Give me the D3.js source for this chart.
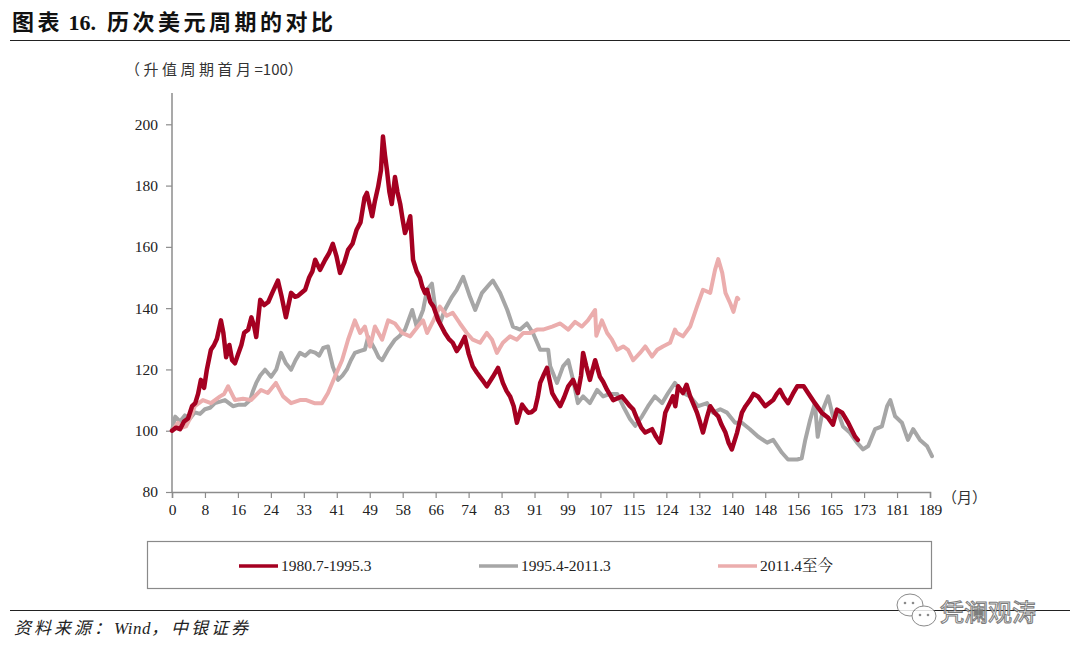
<!DOCTYPE html>
<html><head><meta charset="utf-8">
<script src="https://cdn.jsdelivr.net/npm/d3@7"></script>
<style>
body{margin:0;background:#fff;}
svg{display:block;}
</style></head>
<body>
<svg id="chart" width="1080" height="660"></svg>
<script>
// ---- data (month index, index value: first month of appreciation cycle = 100) ----
const seriesNames = ["1980.7-1995.3", "1995.4-2011.3", "2011.4至今"];
const xTickLabels = ["0","8","16","24","33","41","49","58","66","74","83","91","99","107","115","124","132","140","148","156","165","173","181","189"];
const yTicks = [80,100,120,140,160,180,200];

const redMonths = [0,1,2,3,4,5,5.8,6.5,7.2,8,8.7,9.7,10.5,11.2,12.2,12.8,13.5,14.3,15,15.7,16.5,17.3,18,19,19.8,20.5,21,22,23,24,25,26.4,27.3,28.4,29.7,30.7,31.4,32.3,33.2,34.2,35,35.7,36.9,38.2,39.2,40.1,41,41.9,43,43.9,45,46,47,48,48.6,49.9,50.6,51.4,52.1,52.6,53.1,53.6,54.2,54.8,55.6,56.2,56.9,57.5,58.1,58.8,59.4,60.1,61,61.8,62.4,63.1,63.6,64.4,65.2,66.4,67.2,68,69,70,71,71.8,73,74,75,76,76.8,77.7,78.5,80,81.3,82.5,83.4,84.3,85.2,86,87.3,88.1,88.8,89.6,90.5,91.2,91.8,92.6,93.5,94.8,95.8,96.8,97.8,98.8,100,101.2,102,102.5,103.3,104.2,105.5,106.7,107.5,108.5,110,112.2,114.2,115,116,117,118,119.7,120.7,121.7,122.3,123,124.9,125.5,126.2,127.4,128.3,129.2,130.9,131.6,132.4,133.3,134.2,135.2,136.2,137,138,138.8,139.6,140.9,142.1,143,144.1,145,146.1,147.9,149.9,150.8,151.6,152.5,153.6,154.8,155.9,157.5,158.6,160.3,162,163.6,164.8,165.8,167.1,168.6,170.3,171];
const redValues = [100,101,100.5,103,104,108,109,112,116.6,114,120,126.4,128,130,136,132,124,128,123,122,125,128,132,133,137,134,130.6,142.7,141,142,145,149,144,137,145,143.7,144,145,146,150,152,155.8,152.5,155.8,158,161,157,151.5,155,159,161,165.5,168,176,177.6,170,175,179.6,185,196,190,185,178,174,182.8,178,174,169,164.5,167,170,155.8,152,150,147,144.9,146,142,140.5,136,134,132,130,128.7,126,127.5,130.6,125,121,119,117.6,116,114.5,117.6,120.5,115.6,113,111.2,108,102.6,108.5,107,105.9,106,107,111,115.6,118,120.5,112.3,110,108,111,114.5,116.6,112.3,118,125.4,121,116.6,123,117.6,116,113.3,110,111.2,108,107,103.8,101,99.4,100.5,98,96.1,100,105.9,111.2,108,114.5,112.3,115,111.2,105.9,103,99.4,104,108,106,104.7,102,99.4,96,93.9,99.4,105.9,108,110,112,111.2,108,110,112,113.3,111,109,112,114.5,114.5,112.3,109,105.9,104.2,102,106.9,105.9,102.6,98.1,97];

const grayMonths = [0,0.8,2,3.2,4.5,5.7,7,8.2,9.5,10.7,12,13.2,14.2,15.2,16.7,18.2,19.5,20.2,21,22,23.2,24.7,26,27.2,28.4,29.7,30.8,31.9,33.2,34.5,35.7,36.7,37.7,38.9,40.1,41.4,42.5,43.6,44.6,45.6,46.8,48.1,48.9,50.6,51.5,52.4,53.9,55.6,56.8,58.1,59.9,61,62.6,63.6,64.8,65.6,66.8,68,69.8,71,72.6,74.3,75.6,77.3,79.3,80,81.8,83.6,85,86.8,88.5,90,91.8,93.8,94.3,96,97.5,98.8,100,101.2,102.5,104.2,106,107.5,109.2,111,112.5,114.2,115.5,117.2,118.7,120.4,122.2,123.7,125.4,127.4,129.2,131.2,133.4,134.9,136.7,138.4,140.4,142.1,144.1,146.1,148.4,149.9,152.1,153.6,155.9,157,157.9,159.1,160.3,161,162.3,163.6,164.8,166.1,167.3,169,170.8,172.3,173.6,175.3,177,178.3,179.1,180.3,182,183.5,184.8,186.5,188.3,189.5];
const grayValues = [100,104.6,103,105,104,106,105.5,107,107.5,109,109.5,110,109,108,108.5,108.5,110,113,115.6,118,119.9,117.6,120,125.4,122,119.9,123,125.4,124.5,126,125.5,124.5,127,127.5,120.9,116.6,118,120,123,125.4,126,126.5,130.6,126.5,124,123,126.5,129.7,131,133,139.4,134,139.4,146,148,140.5,135,139.4,143.7,146,150.2,143.7,139.4,145,148,149,145,139.4,134,133,135,131.9,126.4,126.4,121,115.6,121,123,116.6,109,111.2,109,113.3,111.2,112,112,108,103.8,101.6,104.7,108,111.2,109,112.3,115.6,112.3,111.2,108,109,105.9,107,105.9,102.6,102.6,100.5,98.1,96.1,97,92.8,90.6,90.6,91,97,103.5,109,98,106.9,111.2,104.7,105.9,101.4,99.4,96.1,93.9,95,100.5,101.4,108,110,104.7,102.6,97,100.5,97,94.9,91.7];

const pinkMonths = [0,1.5,2.5,3.5,4.5,5.7,7.7,9.7,12,13,14,15.7,17.7,19.7,22.2,23.9,25.9,27.7,29.7,31.9,33.5,35.5,37.4,38.9,40.6,42.4,43.9,45.6,46.9,48.1,49.4,50.6,52.4,53.9,55.6,57.4,59.4,61.3,62.6,63.6,65.2,66.8,68.5,70,71.8,73.5,75,76.8,78.5,79.8,81,82.5,84.3,86,87.6,89.3,91,92.5,94.8,96.8,98.8,100.5,102.2,103.7,105.5,105.8,107.2,108.5,109.7,111,112.5,113.7,115,116.7,118,119.7,121,122.4,124.2,125.4,125.9,127.4,129.2,130.9,132.4,134.2,135.4,136.2,137.2,138,139.2,140,140.9,141.2];
const pinkValues = [100,102.6,101,101.4,104,108,110,109,111.2,112,114.5,110,110.4,110,113.3,112.3,115.6,111.2,109,110,110,109,109,112.3,117.6,123,129.7,136,131.9,134,127.5,134,129.7,136,135,131.9,130.8,134,136,131.9,136,140.5,137.5,138.5,135,131.9,129.7,128.7,131.9,129.7,125.4,128.7,130.8,129.7,131.9,131.9,133,133,134,135,133,135.5,134,136,139.4,131,136,131.9,129.7,126.4,127.5,126.4,123,125.4,127.5,124.2,126.4,127.5,128.7,133,131.9,130.8,134,140.5,146,145,152.5,156,151.5,145,141.5,138.8,143.4,143];

const colors = ["#A50021", "#A6A6A6", "#EBADAD"];

// ---- drawing ----
const svg = d3.select("#chart");
const serif = "'Liberation Serif','Times New Roman','Noto Serif CJK SC','Noto Sans CJK SC',serif";
const cjk = "'Noto Sans CJK SC','Liberation Sans',sans-serif";

function spanned(sel, parts) {
  parts.forEach(p => sel.append("tspan").attr("letter-spacing", p[1]).text(p[0]));
  return sel;
}

// title
spanned(svg.append("text").attr("x", 12).attr("y", 30).style("white-space", "pre")
  .attr("font-family", "'Liberation Serif','Noto Sans CJK SC',serif").attr("font-weight", "bold")
  .attr("font-size", 22).attr("fill", "#111"),
  [["图表", 3.5], ["\u00a016.\u00a0\u00a0", 0], ["历次美元周期的对比", 3.5]]);
svg.append("line").attr("x1", 10).attr("x2", 1070).attr("y1", 40.5).attr("y2", 40.5)
  .attr("stroke", "#222").attr("stroke-width", 1.2);

// unit label
spanned(svg.append("text").attr("x", 125).attr("y", 75)
  .attr("font-family", cjk).attr("font-size", 15).attr("fill", "#333"),
  [["（升值周期首月", 3.5], ["=100）", 0]]);

const x = d3.scaleLinear().domain([0, 189]).range([172, 930]);
const y = d3.scaleLinear().domain([80, 200]).range([492, 124.3]);

// axes
const axisColor = "#8c8c8c";
const yAxis = svg.append("g").attr("transform", "translate(172,0)")
  .call(d3.axisLeft(y).tickValues(yTicks).tickSize(6).tickPadding(8));
yAxis.select(".domain").remove();
yAxis.append("line").attr("x1", 0).attr("x2", 0).attr("y1", 93).attr("y2", 492)
  .attr("stroke", axisColor).attr("stroke-width", 1.5);

const xTickVals = xTickLabels.map((d, i) => i * 189 / 23);
const xAxis = svg.append("g").attr("transform", "translate(0,492)")
  .call(d3.axisBottom(x).tickValues(xTickVals).tickSize(6).tickPadding(6)
    .tickFormat((d, i) => xTickLabels[i]));
xAxis.select(".domain").attr("stroke", axisColor).attr("stroke-width", 1.5);

[yAxis, xAxis].forEach(g => {
  g.selectAll(".tick line").attr("stroke", axisColor).attr("stroke-width", 1.2);
  g.selectAll(".tick text").attr("font-family", serif).attr("font-size", 15.5).attr("fill", "#222");
});

svg.append("text").attr("x", 942).attr("y", 503)
  .attr("font-family", cjk).attr("font-size", 15).attr("fill", "#333").text("（月）");

// lines
const line = d3.line().x(d => x(d[0])).y(d => y(d[1])).curve(d3.curveLinear);
const allData = [
  d3.zip(grayMonths, grayValues),
  d3.zip(pinkMonths, pinkValues),
  d3.zip(redMonths, redValues)
];
const order = [1, 2, 0];
allData.forEach((data, k) => {
  svg.append("path").datum(data).attr("d", line)
    .attr("fill", "none").attr("stroke", colors[order[k]])
    .attr("stroke-width", k === 2 ? 4.5 : 4)
    .attr("stroke-linejoin", "round").attr("stroke-linecap", "round");
});

// legend
svg.append("rect").attr("x", 147.5).attr("y", 541.5).attr("width", 784).attr("height", 47)
  .attr("fill", "#fff").attr("stroke", "#8a8a8a").attr("stroke-width", 1.2);
const legX = [239, 479, 718];
seriesNames.forEach((name, i) => {
  svg.append("line").attr("x1", legX[i]).attr("x2", legX[i] + 39).attr("y1", 566).attr("y2", 566)
    .attr("stroke", colors[i]).attr("stroke-width", 3.6);
  svg.append("text").attr("x", legX[i] + 42).attr("y", 571)
    .attr("font-family", serif).attr("font-size", 15.5).attr("fill", "#222").text(name);
});

// bottom rule and source
svg.append("line").attr("x1", 10).attr("x2", 1070).attr("y1", 610.5).attr("y2", 610.5)
  .attr("stroke", "#222").attr("stroke-width", 1.2);
spanned(svg.append("text").attr("x", 14).attr("y", 634)
  .attr("font-family", "'Liberation Serif','Noto Sans CJK SC',serif").attr("font-style", "italic")
  .attr("font-size", 17).attr("fill", "#222"),
  [["资料来源：", 3], ["Wind", 0.5], ["，中银证券", 3]]);

// watermark
const wm = svg.append("g").attr("opacity", 0.85);
wm.append("ellipse").attr("cx", 910).attr("cy", 605).attr("rx", 13).attr("ry", 11)
  .attr("fill", "#fff").attr("stroke", "#777").attr("stroke-width", 1);
wm.append("ellipse").attr("cx", 924).attr("cy", 616).attr("rx", 12).attr("ry", 10)
  .attr("fill", "#fff").attr("stroke", "#777").attr("stroke-width", 1);
[[905,603],[913,603],[920,615],[928,615]].forEach(p =>
  wm.append("circle").attr("cx", p[0]).attr("cy", p[1]).attr("r", 1.3).attr("fill", "#777"));
wm.append("text").attr("x", 940).attr("y", 621)
  .attr("font-family", cjk).attr("font-size", 24).attr("fill", "#fff")
  .attr("stroke", "#666").attr("stroke-width", 1).text("凭澜观涛");
</script>
</body></html>
